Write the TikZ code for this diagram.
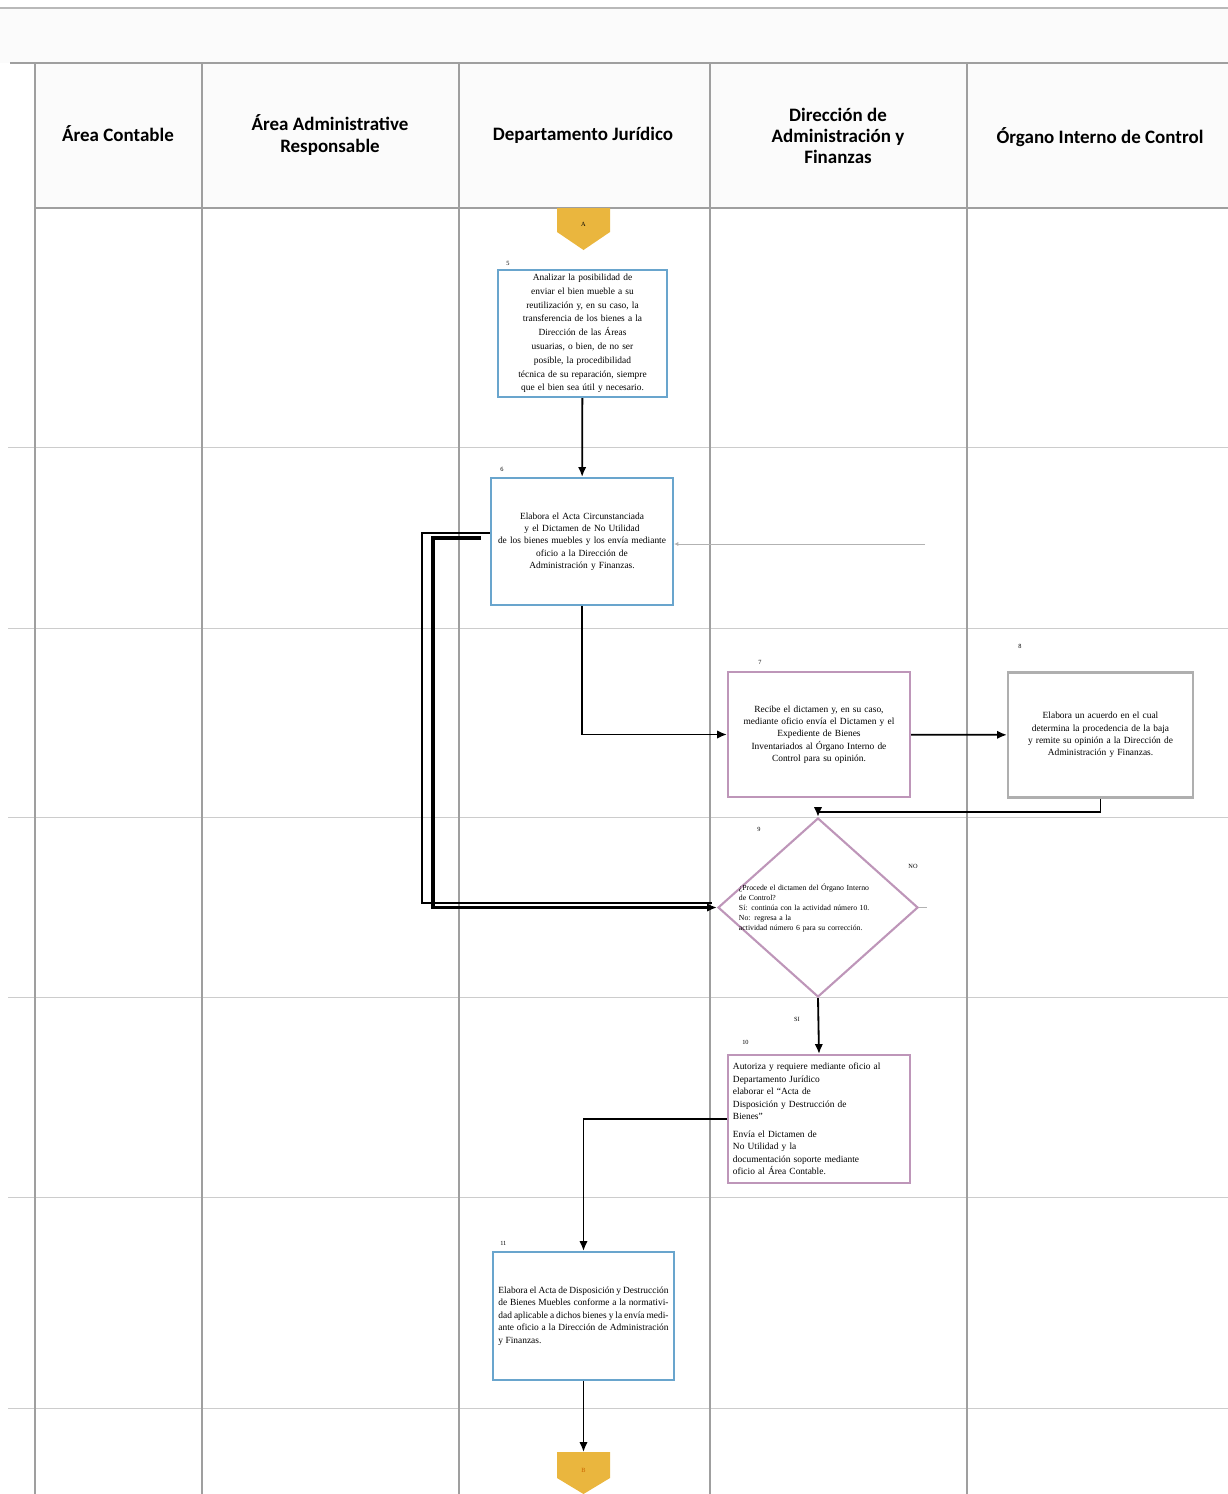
\documentclass[tikz,border=0pt]{standalone}
\usepackage{fontspec}
\setmainfont{Liberation Serif}
\newfontfamily\headfont{Carlito}
\usetikzlibrary{arrows.meta,shapes.geometric}
\definecolor{jurblue}{RGB}{105,165,205}
\definecolor{dafpink}{RGB}{190,150,185}
\definecolor{oicgray}{RGB}{175,175,175}
\definecolor{conngold}{RGB}{234,182,62}
\tikzset{
  lane/.style={draw=gray!75, line width=0.9pt},
  rowline/.style={draw=gray!40, line width=0.7pt},
  head/.style={font=\headfont\bfseries\fontsize{13.5}{15}\selectfont, align=center},
  task/.style={draw, line width=1.5pt, inner sep=2pt, font=\fontsize{6.7}{8.8}\selectfont, align=center},
  flow/.style={-{Latex[length=7pt,width=6pt]}, line width=1.3pt},
  num/.style={font=\fontsize{4.5}{5}\selectfont, inner sep=0pt}
}
\begin{document}
\begin{tikzpicture}[x=0.025cm,y=-0.025cm]
\useasboundingbox (0,0) rectangle (1228,1494);
% header band
\fill[gray!3] (0,8) rectangle (1228,63);
\fill[gray!3] (35,63) rectangle (1228,208);
\draw[draw=gray!55, line width=0.8pt] (0,8) -- (1228,8);
\draw[lane] (10,63) -- (1228,63);
\draw[lane] (35,208) -- (1228,208);
% rows
\foreach \y in {447,628,817,997,1197,1408}{
  \draw[rowline] (8,\y) -- (1228,\y);
}
% lanes
\foreach \x in {35,202,459,710,967}{
  \draw[lane] (\x,63) -- (\x,1494);
}
\node[head] (h1) at (118,134) {Área Contable};
\node[head] (h2) at (330,135) {Área Administrative\\Responsable};
\node[head] (h3) at (583,135) {Departamento Jurídico};
\node[head] (h4) at (838,136) {Dirección de\\Administración y\\Finanzas};
\node[head] (h5) at (1100,137) {Órgano Interno de Control};

% connectors (off page)
\fill[conngold] (557,208) -- (610,208) -- (610,232) -- (583.5,250) -- (557,232) -- cycle;
\node[num] (inicio) at (583.5,224) {A};
\fill[conngold] (557,1452) -- (610,1452) -- (610,1478) -- (583.5,1494) -- (557,1478) -- cycle;
\node[num, text=orange!80!black] (fin) at (583.5,1470) {B};
\coordinate (fintop) at (583.5,1452);

% activities
\node[task, draw=jurblue, minimum width=4.225cm, minimum height=3.175cm, text width=3.95cm, font=\fontsize{6.7}{9.8}\selectfont] (analiza) at (582.5,333.5)
  {Analizar la posibilidad de\\enviar el bien mueble a su\\reutilización y, en su caso, la\\transferencia de los bienes a la\\Dirección de las Áreas\\usuarias, o bien, de no ser\\posible, la procedibilidad\\técnica de su reparación, siempre\\que el bien sea útil y necesario.};
\node[num, anchor=south west] at (506,266) {5};

\node[task, draw=jurblue, minimum width=4.55cm, minimum height=3.175cm, text width=4.25cm] (elabora) at (582,541.5)
  {Elabora el Acta Circunstanciada\\y el Dictamen de No Utilidad\\de los bienes muebles y los envía mediante\\oficio a la Dirección de\\Administración y Finanzas.};
\node[num, anchor=south west] at (500,472) {6};

\node[task, draw=dafpink, minimum width=4.55cm, minimum height=3.125cm, text width=4.25cm] (recibe) at (819,734.5)
  {Recibe el dictamen y, en su caso,\\mediante oficio envía el Dictamen y el\\Expediente de Bienes\\Inventariados al Órgano Interno de\\Control para su opinión.};
\node[num, anchor=south west] at (758,665) {7};

\node[task, draw=oicgray, minimum width=4.625cm, minimum height=3.125cm, text width=4.35cm] (acuerdo) at (1100.5,735)
  {Elabora un acuerdo en el cual\\determina la procedencia de la baja\\y remite su opinión a la Dirección de\\Administración y Finanzas.};
\node[num, anchor=south west] at (1018,649) {8};

\node[draw=dafpink, line width=1.5pt, shape=diamond, minimum width=5cm, minimum height=4.475cm, inner sep=0pt] (procede) at (818,907.5) {};
\node[font=\fontsize{5.5}{7.2}\selectfont, align=left, text width=4.4cm, inner sep=0pt] (pregunta) at (827,908)
  {¿Procede el dictamen del Órgano Interno\\de Control?\\Sí: continúa con la actividad número 10.\\No: regresa a la\\actividad número 6 para su corrección.};
\node[num, anchor=south west] at (757,832) {9};
\node[num] (etqno) at (913,866) {NO};
\node[num] (etqsi) at (797,1019) {SI};

\node[task, draw=dafpink, minimum width=4.55cm, minimum height=3.2cm, text width=4.3cm, align=left] (autoriza) at (819,1119)
  {Autoriza y requiere mediante oficio al\\Departamento Jurídico\\elaborar el “Acta de\\Disposición y Destrucción de\\Bienes”\\[4pt]Envía el Dictamen de\\No Utilidad y la\\documentación soporte mediante\\oficio al Área Contable.};
\node[num, anchor=south west] at (742,1045) {10};

\node[task, draw=jurblue, minimum width=4.525cm, minimum height=3.2cm, text width=4.25cm, align=justify] (acta) at (583.5,1316)
  {Elabora el Acta de Disposición y Destrucción de Bienes Muebles conforme a la normatividad aplicable a dichos bienes y la envía mediante oficio a la Dirección de Administración y Finanzas.};
\node[num, anchor=south west] at (500,1246) {11};

% flow
\draw[flow] (analiza) -- (elabora);
\draw[flow] (elabora.south) |- (recibe.west);
\draw[flow] (recibe) -- (acuerdo);
\coordinate (retorno) at (818,812);
\draw[flow] (acuerdo.south) |- (retorno) -- (procede.north);
\draw[flow] (procede.south) -- (autoriza.north);
\draw[flow] (autoriza.west) -| (acta.north);
\draw[flow] (acta) -- (fintop);
% returns to the diamond
\draw[line width=0.9pt] ([yshift=0.21cm]elabora.west) -| (422,903) -- (712,903);
\draw[flow, line width=2.3pt] ([xshift=-0.225cm,yshift=0.09cm]elabora.west) -| (433,907.5) -- (procede.west);
% no branch
\coordinate (noregreso) at (925,544);
\draw[gray!60, line width=0.6pt, -{Latex[length=3pt,width=3pt]}] (noregreso) -- (elabora.east |- noregreso);
\draw[gray!60, line width=0.6pt] (procede.east) -- ++(8,0);
\end{tikzpicture}
\end{document}
